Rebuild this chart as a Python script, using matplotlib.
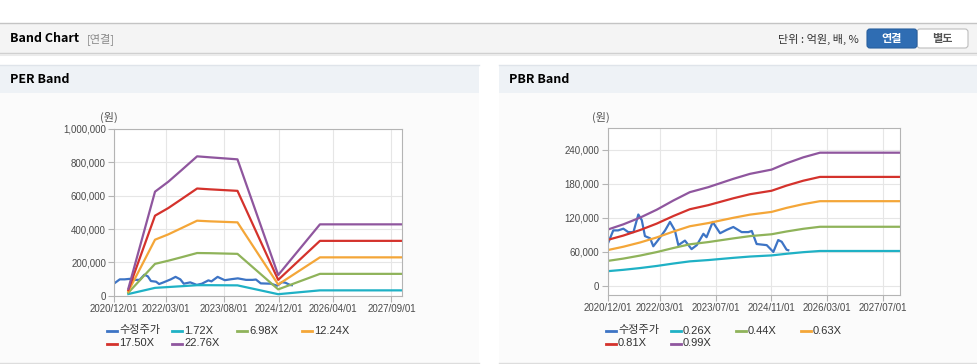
import numpy as np
import matplotlib.pyplot as plt
from matplotlib.patches import Rectangle, FancyBboxPatch
from matplotlib.ticker import FuncFormatter

plt.rcParams['font.family'] = ['Liberation Sans', 'Noto Sans CJK KR', 'DejaVu Sans']

# x = months since 2020/12/01
price_m = [0, 1.6, 3.0, 4.5, 5.9, 7.4, 8.8, 9.8, 10.7, 12.2, 13.1, 14.5, 16.5, 17.9,
           19.3, 20.3, 22.2, 24.1, 25.6, 27.5, 28.4, 30.2, 30.8, 32.3, 34.2, 36.1,
           38.5, 40.4, 41.4, 42.8, 45.7, 47.6, 49.0, 50.0, 51.4, 51.9]
price = [74000, 98000, 98000, 101000, 95000, 95000, 126000, 116000, 88000, 84000,
         70000, 81000, 98000, 113000, 98000, 72000, 80000, 65000, 72000, 92000,
         86000, 113000, 107000, 93000, 99000, 104000, 95000, 95000, 97000, 74000,
         72000, 60000, 81000, 78000, 64000, 63000]

# PER band
per_m = [4.1, 11.9, 15.8, 19.7, 24.2, 28, 36, 47.9, 60.1, 84]
per_names = ['1.72X', '6.98X', '12.24X', '17.50X', '22.76X']
per_bands = [
    [10000, 47000, 52000, 57000, 63000, 63000, 62000, 9000, 32000, 32000],
    [18000, 191000, 210000, 231000, 256000, 255000, 251000, 38000, 131000, 131000],
    [26000, 336000, 368000, 406000, 450000, 446000, 440000, 67000, 230000, 230000],
    [34000, 480000, 526000, 580000, 643000, 638000, 629000, 95000, 329000, 329000],
    [42000, 624000, 684000, 754000, 836000, 830000, 818000, 124000, 428000, 428000],
]
per_ticks = [0, 15, 32, 48, 64, 81]
per_labels = ['2020/12/01', '2022/03/01', '2023/08/01', '2024/12/01', '2026/04/01', '2027/09/01']

# PBR band
pbr_m = [0, 4.5, 9.3, 14.1, 18.9, 23.6, 28.9, 36.1, 40.9, 47.1, 51.4, 56.2, 61, 84]
pbr_names = ['0.26X', '0.44X', '0.63X', '0.81X', '0.99X']
pbr_bands = [
    [26100, 28500, 31600, 35300, 39600, 43400, 45700, 49600, 51900, 53900, 56800, 59600, 61700, 61700],
    [44200, 48300, 53600, 59800, 67000, 73500, 77400, 83900, 87900, 91200, 96100, 100800, 104400, 104400],
    [63300, 69200, 76700, 85600, 96000, 105300, 110900, 120200, 125800, 130600, 137700, 144300, 149500, 149500],
    [81300, 88900, 98600, 110000, 123400, 135300, 142500, 154600, 161800, 167900, 177000, 185600, 192300, 192300],
    [99400, 108700, 120500, 134500, 150800, 165400, 174200, 188900, 197700, 205200, 216300, 226800, 235000, 235000],
]
pbr_ticks = [0, 15, 31, 47, 63, 79]
pbr_labels = ['2020/12/01', '2022/03/01', '2023/07/01', '2024/11/01', '2026/03/01', '2027/07/01']

price_color = '#3d74c5'
band_colors = ['#1fb1c5', '#8fb35a', '#f4a638', '#d4322c', '#8f569e']

W, H = 978, 364
fig = plt.figure(figsize=(W / 100, H / 100), dpi=100)

# page background drawn in pixel coordinates
bg = fig.add_axes([0, 0, 1, 1])
bg.set_xlim(0, W)
bg.set_ylim(H, 0)
bg.axis('off')

bg.plot([0, W], [22.5, 22.5], color='#c4c4c4', lw=1)
bg.add_patch(Rectangle((0, 23), W, 30, fc='#f4f4f4', ec='none'))
bg.plot([0, W], [53, 53], color='#cfcfcf', lw=1)
bg.plot([0, W], [54.5, 54.5], color='#ebebeb', lw=1.5)
bg.text(10, 39, 'Band Chart', fontsize=9, fontweight='bold', family=['Noto Sans CJK KR'], va='center')
bg.text(87, 39, '[연결]', fontsize=8, color='#888888', family=['Noto Sans CJK KR'], va='center')
bg.text(859, 39, '단위 : 억원, 배, %', fontsize=8, color='#333333', family=['Noto Sans CJK KR'],
        va='center', ha='right')
bg.add_patch(FancyBboxPatch((917, 29), 51, 19, boxstyle='round,pad=0,rounding_size=3',
                            fc='white', ec='#bdbdbd', lw=0.8))
bg.add_patch(FancyBboxPatch((867, 29), 50, 19, boxstyle='round,pad=0,rounding_size=3',
                            fc='#2f6db3', ec='#285f9e', lw=0.8))
bg.text(892, 38.5, '연결', fontsize=8, color='white', fontweight='bold',
        family=['Noto Sans CJK KR'], ha='center', va='center')
bg.text(942, 38.5, '별도', fontsize=8, color='#555555', fontweight='bold',
        family=['Noto Sans CJK KR'], ha='center', va='center')

for x0, x1, title in [(0, 479, 'PER Band'), (499, 978, 'PBR Band')]:
    bg.add_patch(Rectangle((x0, 93), x1 - x0, 270, fc='#fbfbfb', ec='none'))
    bg.add_patch(Rectangle((x0, 64.5), x1 - x0, 28.5, fc='#eef2f6', ec='none'))
    bg.plot([x0, x1], [64.5, 64.5], color='#dfe4ea', lw=1)
    bg.plot([x0, x1], [363, 363], color='#dddddd', lw=1)
    bg.text(x0 + 10, 79.5, title, fontsize=9, fontweight='bold',
            family=['Noto Sans CJK KR'], va='center')


def draw_band(rect, band_m, bands, names, ylim, yticks, xticks, xlabels, unit_x, leg_x):
    ax = fig.add_axes(rect)
    ax.set_facecolor('white')
    ax.plot(price_m, price, color=price_color, lw=1.6)
    for vals, c in zip(bands, band_colors):
        ax.plot(band_m, vals, color=c, lw=1.6)
    ax.set_xlim(0, 84)
    ax.set_ylim(*ylim)
    ax.set_yticks(yticks)
    ax.yaxis.set_major_formatter(FuncFormatter(lambda v, p: '{:,.0f}'.format(v)))
    ax.set_xticks(xticks)
    ax.set_xticklabels(xlabels)
    ax.grid(True, color='#e6e6e6', lw=0.8)
    ax.set_axisbelow(True)
    for s in ax.spines.values():
        s.set_color('#b4b4b4')
    ax.tick_params(labelsize=7, labelcolor='#4a4a4a', color='#b4b4b4', length=4, width=0.8, pad=2)

    bg.text(unit_x, 117, '(원)', fontsize=8, color='#555555', ha='center', va='center',
            family=['Noto Sans CJK KR'])

    # legend: 4 fixed-width slots per row
    labels = ['수정주가'] + names
    colors = [price_color] + band_colors
    for i, (lab, c) in enumerate(zip(labels, colors)):
        x = leg_x + 65 * (i % 4)
        y = 330.5 + 13 * (i // 4)
        bg.plot([x, x + 10], [y, y], color=c, lw=2)
        bg.text(x + 12.5, y, lab, fontsize=8, color='#333333', va='center',
                family=['Liberation Sans', 'Noto Sans CJK KR'])
    return ax


draw_band([114.3 / W, 1 - 295.7 / H, 287.4 / W, 166.7 / H], per_m, per_bands, per_names,
          (0, 1000000), [0, 200000, 400000, 600000, 800000, 1000000],
          per_ticks, per_labels, 109, 106.5)
draw_band([607.7 / W, 1 - 295 / H, 292.3 / W, 166.7 / H], pbr_m, pbr_bands, pbr_names,
          (-15900, 278000), [0, 60000, 120000, 180000, 240000],
          pbr_ticks, pbr_labels, 601, 605.5)

fig.savefig('out.png', dpi=100)
